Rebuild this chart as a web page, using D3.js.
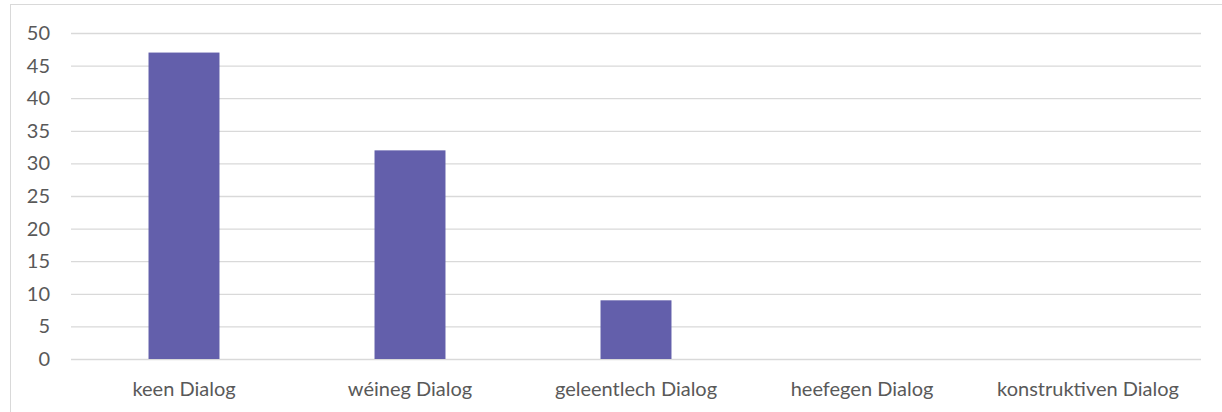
<!DOCTYPE html>
<html>
<head>
<meta charset="utf-8">
<script src="https://cdn.jsdelivr.net/npm/d3@7"></script>
<style>
  body { margin: 0; background: #fff; }
  .tick text { font-family: Lato, "Open Sans", sans-serif; fill: #595959; }
</style>
</head>
<body>
<svg id="chart"></svg>
<script>
// data
var categories = ["keen Dialog", "wéineg Dialog", "geleentlech Dialog", "heefegen Dialog", "konstruktiven Dialog"];
var values = [47, 32, 9, 0, 0];
var yTicks = [0, 5, 10, 15, 20, 25, 30, 35, 40, 45, 50];

var W = 1222, H = 412;
var margin = {top: 33, right: 21, bottom: 53, left: 71},
    width = W - margin.left - margin.right,
    height = H - margin.top - margin.bottom;

var svg = d3.select("#chart")
    .attr("width", W)
    .attr("height", H);

// outer chart border (only top/left visible in the picture)
svg.append("rect")
    .attr("x", 10.5).attr("y", 4.5)
    .attr("width", 1400).attr("height", 600)
    .attr("fill", "none")
    .attr("stroke", "#d9d9d9");

var g = svg.append("g")
    .attr("transform", "translate(" + margin.left + "," + margin.top + ")");

var x = d3.scaleBand().domain(categories).range([0, width]).padding(0);
var y = d3.scaleLinear().domain([0, 50]).range([height, 0]);

// gridlines
g.append("g")
    .attr("class", "grid")
    .call(d3.axisLeft(y).tickValues(yTicks).tickSize(-width).tickFormat(""))
    .call(function(s) {
      s.select(".domain").remove();
      s.selectAll("line").attr("stroke", "#d9d9d9").attr("stroke-width", 1.3);
    });

// bars
var barW = x.bandwidth() * 0.314;
g.selectAll(".bar")
    .data(values)
    .enter().append("rect")
    .attr("class", "bar")
    .attr("x", function(d, i) { return x(categories[i]) + (x.bandwidth() - barW) / 2; })
    .attr("y", function(d) { return y(d); })
    .attr("width", barW)
    .attr("height", function(d) { return height - y(d); })
    .attr("fill", "#635fab");

// y axis labels
g.append("g")
    .call(d3.axisLeft(y).tickValues(yTicks).tickSize(0).tickPadding(21))
    .call(function(s) {
      s.select(".domain").remove();
      s.selectAll("text").style("font-size", "20px");
    });

// x axis labels
g.append("g")
    .attr("transform", "translate(0," + height + ")")
    .call(d3.axisBottom(x).tickSize(0).tickPadding(23))
    .call(function(s) {
      s.select(".domain").remove();
      s.selectAll("text").style("font-size", "20px");
    });
</script>
</body>
</html>
